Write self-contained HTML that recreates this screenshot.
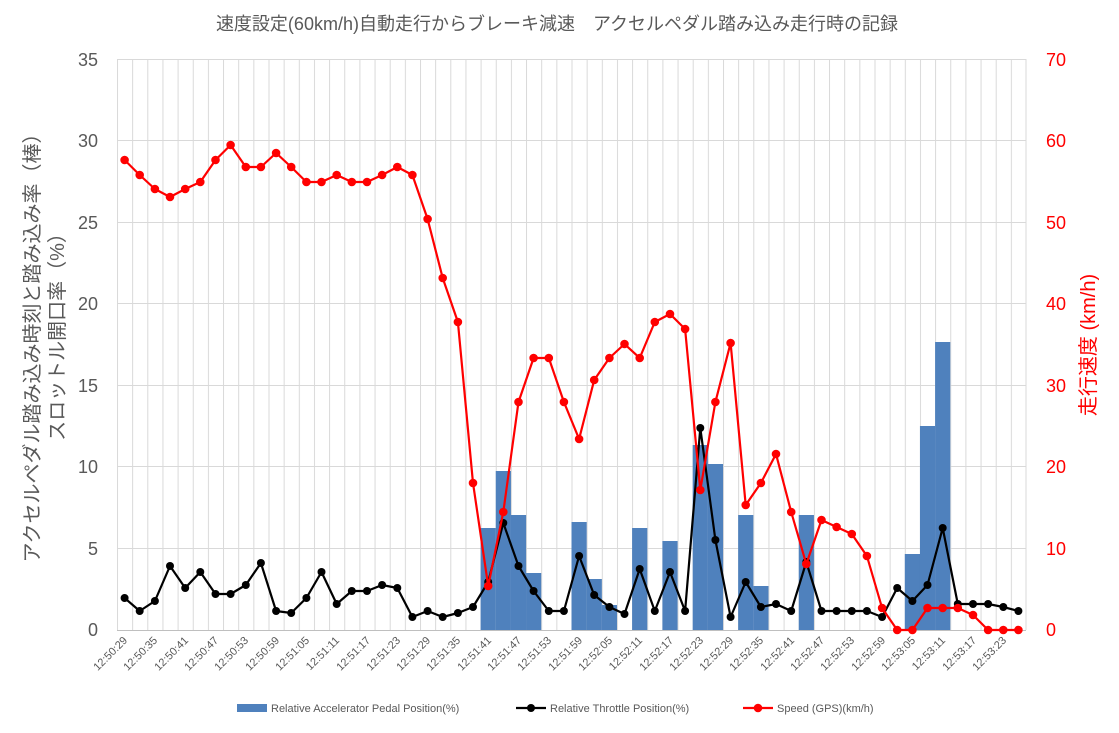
<!DOCTYPE html>
<html><head><meta charset="utf-8"><style>
html,body{margin:0;padding:0;background:#fff;}
svg{display:block;font-family:"Liberation Sans","Noto Sans CJK JP",sans-serif;}
</style></head><body>
<svg width="1119" height="733" viewBox="0 0 1119 733" xmlns="http://www.w3.org/2000/svg">
<defs>
<pattern id="vg" x="117" y="0" width="15.15" height="733" patternUnits="userSpaceOnUse">
<line x1="0.5" y1="0" x2="0.5" y2="733" stroke="#d9d9d9" stroke-width="1"/>
</pattern>
<marker id="mr" markerUnits="userSpaceOnUse" markerWidth="10" markerHeight="10" refX="5" refY="5"><circle cx="5" cy="5" r="4.3" fill="#ff0000"/></marker>
<marker id="mb" markerUnits="userSpaceOnUse" markerWidth="10" markerHeight="10" refX="5" refY="5"><circle cx="5" cy="5" r="4" fill="#000"/></marker>
</defs>
<rect width="1119" height="733" fill="#fff"/>
<rect x="117" y="59" width="909" height="571" fill="url(#vg)"/>
<line x1="1026" y1="59" x2="1026" y2="630" stroke="#d9d9d9"/>
<g stroke="#d9d9d9" stroke-width="1">
<line x1="117" y1="59.5" x2="1026" y2="59.5"/>
<line x1="117" y1="140.5" x2="1026" y2="140.5"/>
<line x1="117" y1="222.5" x2="1026" y2="222.5"/>
<line x1="117" y1="303.5" x2="1026" y2="303.5"/>
<line x1="117" y1="385.5" x2="1026" y2="385.5"/>
<line x1="117" y1="466.5" x2="1026" y2="466.5"/>
<line x1="117" y1="548.5" x2="1026" y2="548.5"/>
</g>
<line x1="117" y1="630.5" x2="1026" y2="630.5" stroke="#bfbfbf"/>
<text x="557" y="30" text-anchor="middle" font-size="18" fill="#595959">速度設定(60km/h)自動走行からブレーキ減速　アクセルペダル踏み込み走行時の記録</text>
<g font-size="18" fill="#595959" text-anchor="end">
<text x="98" y="66">35</text><text x="98" y="147">30</text><text x="98" y="229">25</text><text x="98" y="310">20</text><text x="98" y="392">15</text><text x="98" y="473">10</text><text x="98" y="555">5</text><text x="98" y="636">0</text>
</g>
<g font-size="18" fill="#ff0000" text-anchor="start">
<text x="1046" y="66">70</text><text x="1046" y="147">60</text><text x="1046" y="229">50</text><text x="1046" y="310">40</text><text x="1046" y="392">30</text><text x="1046" y="473">20</text><text x="1046" y="555">10</text><text x="1046" y="636">0</text>
</g>
<text transform="translate(39,343) rotate(-90)" text-anchor="middle" font-size="20" fill="#595959">アクセルペダル踏み込み時刻と踏み込み率（棒）</text>
<text transform="translate(64,332) rotate(-90)" text-anchor="middle" font-size="20" fill="#595959">スロットル開口率（%）</text>
<text transform="translate(1095,345) rotate(-90)" text-anchor="middle" font-size="20" fill="#ff0000">走行速度 (km/h)</text>
<g fill="#4f81bd">
<rect x="480.6" y="528" width="15.2" height="102"/>
<rect x="495.75" y="471" width="15.2" height="159"/>
<rect x="510.9" y="515" width="15.2" height="115"/>
<rect x="526.05" y="573" width="15.2" height="57"/>
<rect x="571.5" y="522" width="15.2" height="108"/>
<rect x="586.65" y="579" width="15.2" height="51"/>
<rect x="601.8" y="605" width="15.2" height="25"/>
<rect x="632.1" y="528" width="15.2" height="102"/>
<rect x="662.4" y="541" width="15.2" height="89"/>
<rect x="692.7" y="445" width="15.2" height="185"/>
<rect x="707.85" y="464" width="15.2" height="166"/>
<rect x="738.15" y="515" width="15.2" height="115"/>
<rect x="753.3" y="586" width="15.2" height="44"/>
<rect x="798.75" y="515" width="15.2" height="115"/>
<rect x="904.8" y="554" width="15.2" height="76"/>
<rect x="919.95" y="426" width="15.2" height="204"/>
<rect x="935.1" y="342" width="15.2" height="288"/>
</g>
<polyline fill="none" stroke="#000" stroke-width="2.2" stroke-linejoin="round" marker-start="url(#mb)" marker-mid="url(#mb)" marker-end="url(#mb)" points="124.6,598 139.7,611 154.9,601 170.0,566 185.2,588 200.3,572 215.5,594 230.6,594 245.8,585 260.9,563 276.1,611 291.2,613 306.4,598 321.5,572 336.7,604 351.8,591 367.0,591 382.1,585 397.3,588 412.4,617 427.6,611 442.7,617 457.9,613 473.0,607 488.2,582 503.3,523 518.5,566 533.6,591 548.8,611 563.9,611 579.1,556 594.2,595 609.4,607 624.5,614 639.7,569 654.8,611 670.0,572 685.1,611 700.3,428 715.4,540 730.6,617 745.7,582 760.9,607 776.0,604 791.2,611 806.3,562 821.5,611 836.6,611 851.8,611 866.9,611 882.1,617 897.2,588 912.4,601 927.5,585 942.7,528 957.8,604 973.0,604 988.1,604 1003.3,607 1018.4,611"/>
<polyline fill="none" stroke="#ff0000" stroke-width="2.2" stroke-linejoin="round" marker-start="url(#mr)" marker-mid="url(#mr)" marker-end="url(#mr)" points="124.6,160 139.7,175 154.9,189 170.0,197 185.2,189 200.3,182 215.5,160 230.6,145 245.8,167 260.9,167 276.1,153 291.2,167 306.4,182 321.5,182 336.7,175 351.8,182 367.0,182 382.1,175 397.3,167 412.4,175 427.6,219 442.7,278 457.9,322 473.0,483 488.2,586 503.3,512 518.5,402 533.6,358 548.8,358 563.9,402 579.1,439 594.2,380 609.4,358 624.5,344 639.7,358 654.8,322 670.0,314 685.1,329 700.3,490 715.4,402 730.6,343 745.7,505 760.9,483 776.0,454 791.2,512 806.3,564 821.5,520 836.6,527 851.8,534 866.9,556 882.1,608 897.2,630 912.4,630 927.5,608 942.7,608 957.8,608 973.0,615 988.1,630 1003.3,630 1018.4,630"/>
<g font-size="11" fill="#595959" text-anchor="end">
<text transform="translate(128,641) rotate(-45)">12:50:29</text>
<text transform="translate(158,641) rotate(-45)">12:50:35</text>
<text transform="translate(189,641) rotate(-45)">12:50:41</text>
<text transform="translate(219,641) rotate(-45)">12:50:47</text>
<text transform="translate(249,641) rotate(-45)">12:50:53</text>
<text transform="translate(280,641) rotate(-45)">12:50:59</text>
<text transform="translate(310,641) rotate(-45)">12:51:05</text>
<text transform="translate(340,641) rotate(-45)">12:51:11</text>
<text transform="translate(371,641) rotate(-45)">12:51:17</text>
<text transform="translate(401,641) rotate(-45)">12:51:23</text>
<text transform="translate(431,641) rotate(-45)">12:51:29</text>
<text transform="translate(461,641) rotate(-45)">12:51:35</text>
<text transform="translate(492,641) rotate(-45)">12:51:41</text>
<text transform="translate(522,641) rotate(-45)">12:51:47</text>
<text transform="translate(552,641) rotate(-45)">12:51:53</text>
<text transform="translate(583,641) rotate(-45)">12:51:59</text>
<text transform="translate(613,641) rotate(-45)">12:52:05</text>
<text transform="translate(643,641) rotate(-45)">12:52:11</text>
<text transform="translate(674,641) rotate(-45)">12:52:17</text>
<text transform="translate(704,641) rotate(-45)">12:52:23</text>
<text transform="translate(734,641) rotate(-45)">12:52:29</text>
<text transform="translate(764,641) rotate(-45)">12:52:35</text>
<text transform="translate(795,641) rotate(-45)">12:52:41</text>
<text transform="translate(825,641) rotate(-45)">12:52:47</text>
<text transform="translate(855,641) rotate(-45)">12:52:53</text>
<text transform="translate(886,641) rotate(-45)">12:52:59</text>
<text transform="translate(916,641) rotate(-45)">12:53:05</text>
<text transform="translate(946,641) rotate(-45)">12:53:11</text>
<text transform="translate(977,641) rotate(-45)">12:53:17</text>
<text transform="translate(1007,641) rotate(-45)">12:53:23</text>
</g>
<g font-size="11" fill="#595959">
<rect x="237" y="704" width="30" height="8" fill="#4f81bd"/>
<text x="271" y="712">Relative Accelerator Pedal Position(%)</text>
<line x1="516" y1="708" x2="546" y2="708" stroke="#000" stroke-width="2.2"/>
<circle cx="531" cy="708" r="4" fill="#000"/>
<text x="550" y="712">Relative Throttle Position(%)</text>
<line x1="743" y1="708" x2="773" y2="708" stroke="#ff0000" stroke-width="2.2"/>
<circle cx="758" cy="708" r="4.3" fill="#ff0000"/>
<text x="777" y="712">Speed (GPS)(km/h)</text>
</g>
</svg>
</body></html>
